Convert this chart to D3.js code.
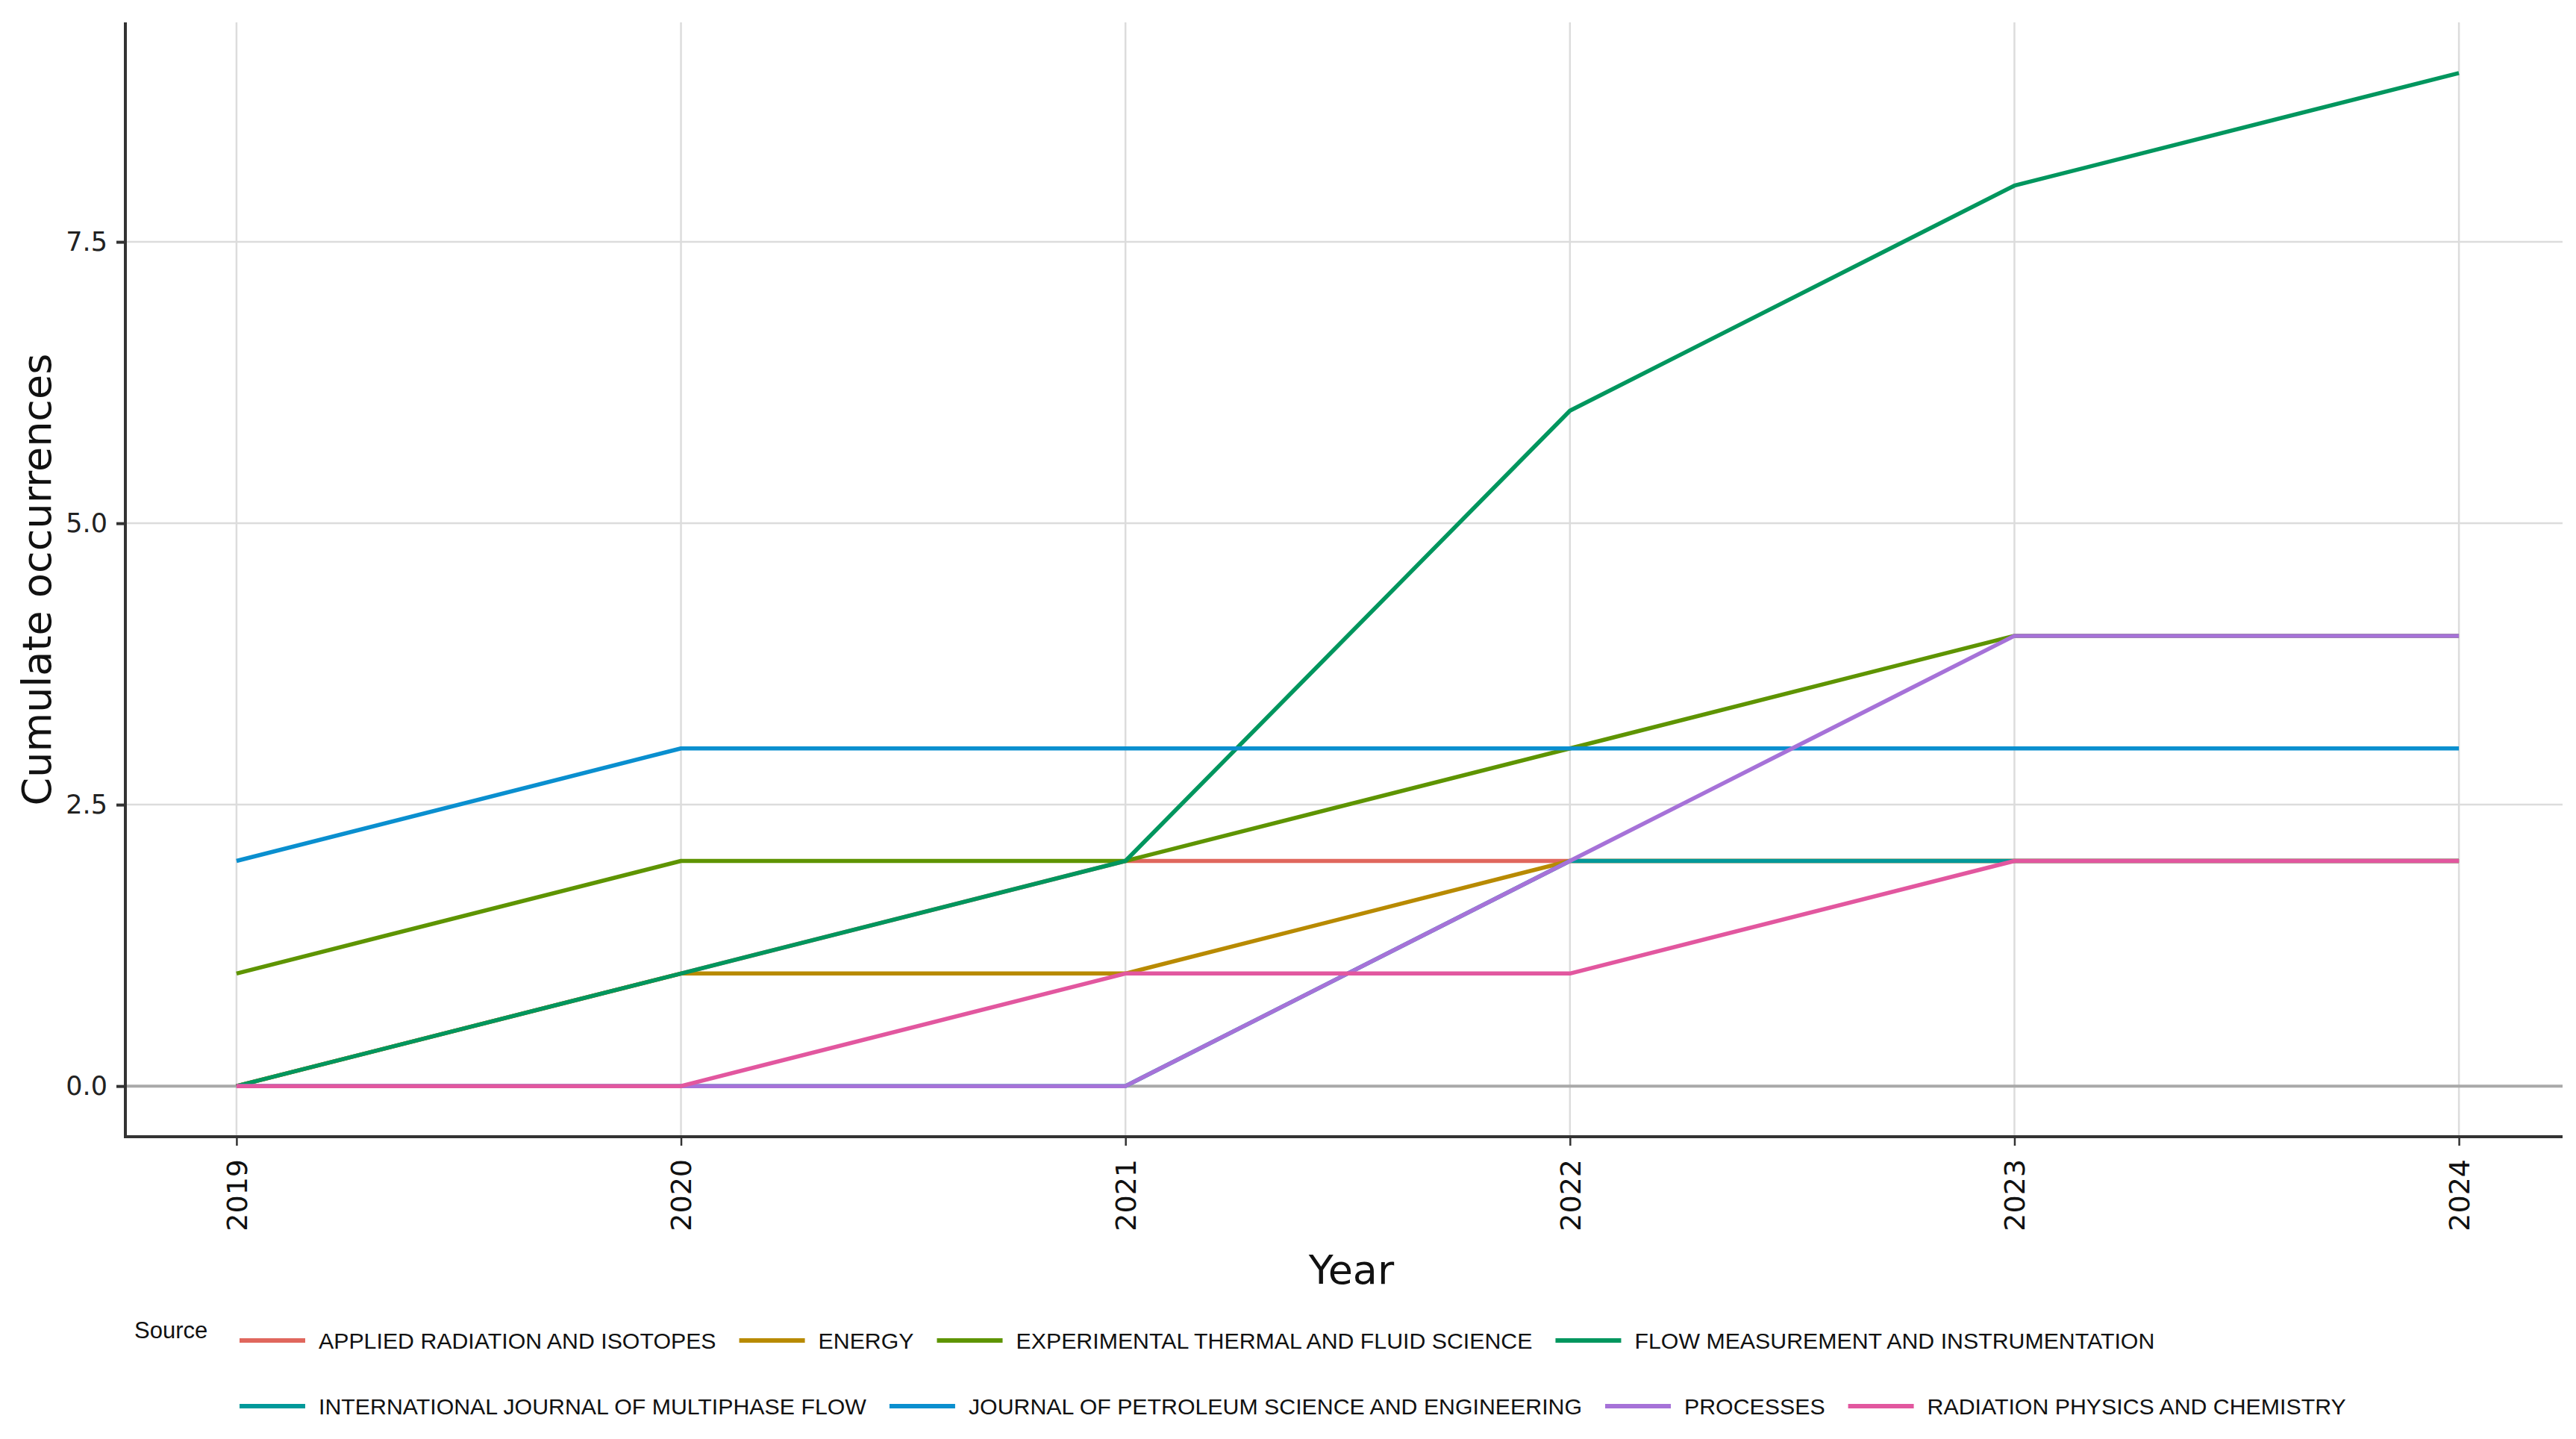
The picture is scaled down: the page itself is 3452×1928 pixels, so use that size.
<!DOCTYPE html>
<html>
<head>
<meta charset="utf-8">
<script src="https://cdn.jsdelivr.net/npm/d3@7/dist/d3.min.js"></script>
<style>
  html, body { margin: 0; padding: 0; background: #ffffff; }
  svg { display: block; }
</style>
</head>
<body>
<div id="chart"></div>
<script>
// ---------------- DATA ----------------
const years = [2019, 2020, 2021, 2022, 2023, 2024];
const sources = [
  "APPLIED RADIATION AND ISOTOPES",
  "ENERGY",
  "EXPERIMENTAL THERMAL AND FLUID SCIENCE",
  "FLOW MEASUREMENT AND INSTRUMENTATION",
  "INTERNATIONAL JOURNAL OF MULTIPHASE FLOW",
  "JOURNAL OF PETROLEUM SCIENCE AND ENGINEERING",
  "PROCESSES",
  "RADIATION PHYSICS AND CHEMISTRY"
];
const appliedRadiation   = [0, 1, 2, 2, 2, 2];
const energy             = [0, 1, 1, 2, 2, 2];
const experimentalThermal= [1, 2, 2, 3, 4, 4];
const flowMeasurement    = [0, 1, 2, 6, 8, 9];
const intMultiphaseFlow  = [0, 0, 0, 2, 2, 2];
const petroleumScience   = [2, 3, 3, 3, 3, 3];
const processes          = [0, 0, 0, 2, 4, 4];
const radiationPhysics   = [0, 0, 1, 1, 2, 2];
const seriesValues = [appliedRadiation, energy, experimentalThermal, flowMeasurement,
                      intMultiphaseFlow, petroleumScience, processes, radiationPhysics];
const colors = ["#E0675D", "#B88A00", "#5E9400", "#00965E", "#00999A", "#0A8FCF", "#A672D8", "#E2579F"];
const yTicks = [0, 2.5, 5, 7.5];
const yTickLabels = ["0.0", "2.5", "5.0", "7.5"];
const xTitle = "Year";
const yTitle = "Cumulate occurrences";
const legendTitle = "Source";

// ---------------- LAYOUT ----------------
const W = 3452, H = 1928;
const plot = { left: 168, right: 3444, top: 30, bottom: 1523 };

const svg = d3.select("#chart").append("svg")
  .attr("width", W).attr("height", H)
  .attr("viewBox", `0 0 ${W} ${H}`);

const x = d3.scaleLinear().domain([2018.75, 2024.25]).range([plot.left, plot.right]);
const y = d3.scaleLinear().domain([-0.45, 9.45]).range([plot.bottom, plot.top]);

// gridlines
const grid = svg.append("g");
grid.selectAll("line.vg").data(years).enter().append("line")
  .attr("x1", d => x(d)).attr("x2", d => x(d))
  .attr("y1", plot.top).attr("y2", plot.bottom)
  .attr("stroke", "#dcdcdc").attr("stroke-width", 2.5);
grid.selectAll("line.hg").data(yTicks.filter(t => t !== 0)).enter().append("line")
  .attr("x1", plot.left).attr("x2", plot.right - 10)
  .attr("y1", d => y(d)).attr("y2", d => y(d))
  .attr("stroke", "#dcdcdc").attr("stroke-width", 2.5);
// zero line
grid.append("line")
  .attr("x1", plot.left).attr("x2", plot.right - 10)
  .attr("y1", y(0)).attr("y2", y(0))
  .attr("stroke", "#a9a9a9").attr("stroke-width", 4);

// lines
const lineGen = d3.line().x((d, i) => x(years[i])).y(d => y(d));
svg.append("g").selectAll("path").data(seriesValues).enter().append("path")
  .attr("d", d => lineGen(d))
  .attr("fill", "none")
  .attr("stroke", (d, i) => colors[i])
  .attr("stroke-width", 5.5)
  .attr("stroke-linejoin", "round");

// axes
const xAxis = d3.axisBottom(x).tickValues(years).tickFormat(d3.format("d")).tickSize(12).tickSizeOuter(0);
const gx = svg.append("g").attr("transform", `translate(0,${plot.bottom})`).call(xAxis);
gx.select(".domain").attr("stroke", "#333").attr("stroke-width", 4)
  .attr("d", `M${plot.left - 2},0H${plot.right - 10}`);
gx.selectAll(".tick line").attr("stroke", "#333").attr("stroke-width", 2.5);
gx.selectAll(".tick text")
  .attr("font-family", "DejaVu Sans, Verdana, sans-serif")
  .attr("font-size", 38).attr("fill", "#111")
  .attr("transform", "rotate(-90)")
  .attr("text-anchor", "end")
  .attr("dy", "0.35em")
  .attr("x", -30).attr("y", 0);

const yAxis = d3.axisLeft(y).tickValues(yTicks).tickFormat((d, i) => yTickLabels[i]).tickSize(12).tickSizeOuter(0);
const gy = svg.append("g").attr("transform", `translate(${plot.left},0)`).call(yAxis);
gy.select(".domain").attr("stroke", "#333").attr("stroke-width", 4)
  .attr("d", `M0,${plot.top}V${plot.bottom + 2}`);
gy.selectAll(".tick line").attr("stroke", "#333").attr("stroke-width", 4);
gy.selectAll(".tick text")
  .attr("font-family", "DejaVu Sans, Verdana, sans-serif")
  .attr("font-size", 35).attr("fill", "#222")
  .attr("x", -24);

// axis titles
svg.append("text")
  .attr("x", (x(2021) + x(2022)) / 2 + 5).attr("y", 1720)
  .attr("text-anchor", "middle")
  .attr("font-family", "DejaVu Sans, Verdana, sans-serif")
  .attr("font-size", 54).attr("fill", "#111")
  .text(xTitle);
svg.append("text")
  .attr("transform", `translate(68,${(plot.top + plot.bottom) / 2}) rotate(-90)`)
  .attr("text-anchor", "middle")
  .attr("font-family", "DejaVu Sans, Verdana, sans-serif")
  .attr("font-size", 54).attr("fill", "#111")
  .text(yTitle);

// legend
const legend = svg.append("g");
legend.append("text")
  .attr("x", 180).attr("y", 1793)
  .attr("font-family", "Liberation Sans, Arial, sans-serif")
  .attr("font-size", 31).attr("fill", "#111")
  .text(legendTitle);

const rowsY = [1796, 1884];
const startX = 321, lineLen = 88, gapLT = 18, gapItem = 31;
let cx = startX, row = 0;
sources.forEach((s, i) => {
  if (i === 4) { row = 1; cx = startX; }
  const yy = rowsY[row];
  legend.append("line")
    .attr("x1", cx).attr("x2", cx + lineLen)
    .attr("y1", yy).attr("y2", yy)
    .attr("stroke", colors[i]).attr("stroke-width", 6);
  const t = legend.append("text")
    .attr("x", cx + lineLen + gapLT).attr("y", yy + 11)
    .attr("font-family", "Liberation Sans, Arial, sans-serif")
    .attr("font-size", 30.3).attr("fill", "#111")
    .text(s);
  const w = t.node().getComputedTextLength();
  cx = cx + lineLen + gapLT + w + gapItem;
});
</script>
</body>
</html>
